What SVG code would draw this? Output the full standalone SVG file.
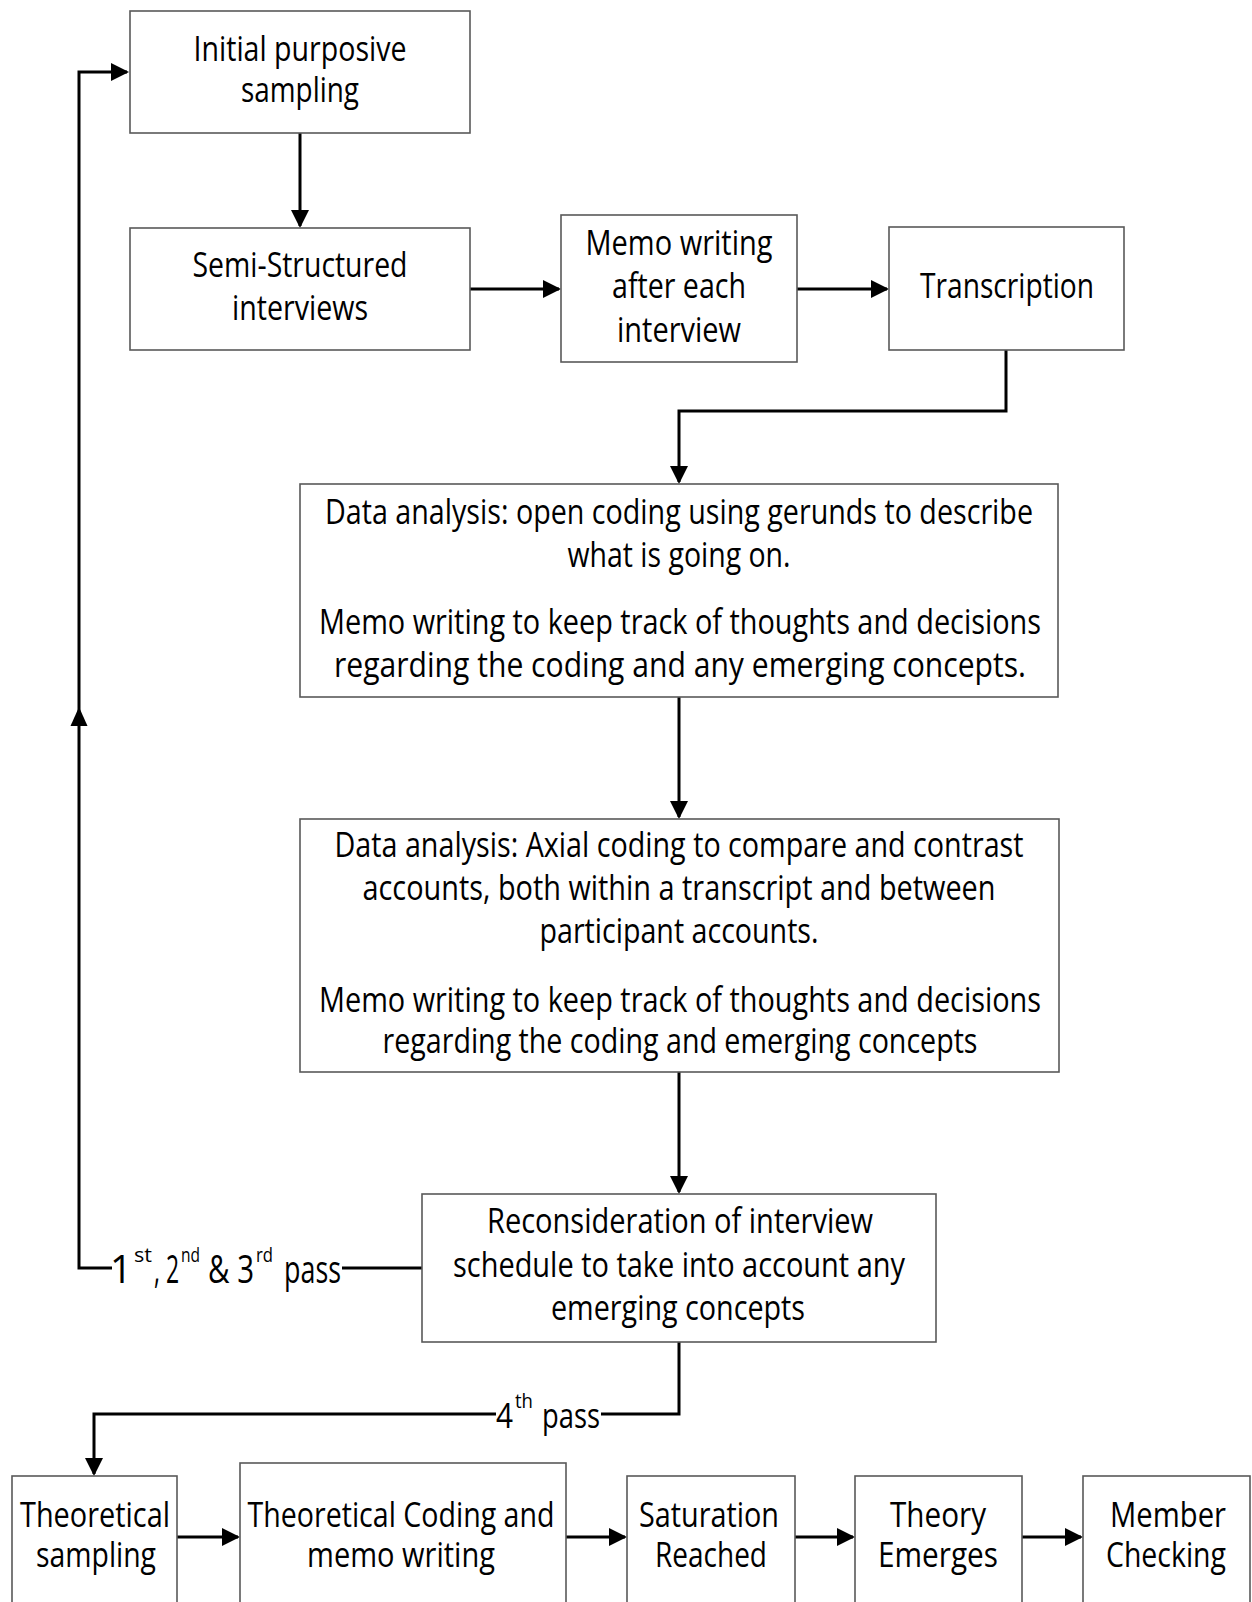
<svg xmlns="http://www.w3.org/2000/svg" width="1252" height="1602" viewBox="0 0 1252 1602">
  <style>
    .box { fill: #ffffff; stroke: #595959; stroke-width: 1.6; }
    .t { font-family: "Open Sans", "Noto Sans", "Liberation Sans", sans-serif; font-size: 34px; fill: #000000; text-anchor: middle; }
    .l { font-family: "Open Sans", "Noto Sans", "Liberation Sans", sans-serif; font-size: 35px; fill: #000000; }
    .big { font-size: 38px; }
    .sup { font-size: 20px; }
    .c { fill: none; stroke: #000000; stroke-width: 3; }
    .head { fill: #000000; }
  </style>
  <defs>
    <marker id="arrow" markerUnits="userSpaceOnUse" markerWidth="18" markerHeight="18" viewBox="0 0 18 18" refX="16" refY="9" orient="auto">
      <path d="M0,0 L18,9 L0,18 z" class="head"/>
    </marker>
  </defs>

  <rect x="0" y="0" width="1252" height="1602" fill="#ffffff"/>

  <!-- connectors -->
  <g id="connectors">
    <path class="c" d="M300 133 V226" marker-end="url(#arrow)"/>
    <path class="c" d="M470 289 H559" marker-end="url(#arrow)"/>
    <path class="c" d="M797 289 H887" marker-end="url(#arrow)"/>
    <path class="c" d="M1006 350 V411 H679 V482" marker-end="url(#arrow)"/>
    <path class="c" d="M679 697 V817" marker-end="url(#arrow)"/>
    <path class="c" d="M679 1072 V1192" marker-end="url(#arrow)"/>
    <!-- 4th pass branch -->
    <path class="c" d="M679 1342 V1414 H601"/>
    <path class="c" d="M496 1414 H94 V1474" marker-end="url(#arrow)"/>
    <!-- loop back for the 1st, 2nd and 3rd pass -->
    <path class="c" d="M422 1268 H342"/>
    <path class="c" d="M112 1268 H79 V72 H127" marker-end="url(#arrow)"/>
    <polygon class="head" points="79,707 70.5,726 87.5,726"/>
    <!-- bottom row -->
    <path class="c" d="M177 1537 H238" marker-end="url(#arrow)"/>
    <path class="c" d="M566 1537 H625" marker-end="url(#arrow)"/>
    <path class="c" d="M795 1537 H853" marker-end="url(#arrow)"/>
    <path class="c" d="M1022 1537 H1081" marker-end="url(#arrow)"/>

    <g id="label-passes-1-3">
      <text class="l big" x="110" y="1283" textLength="22" lengthAdjust="spacingAndGlyphs">1</text>
      <text class="l sup" x="134" y="1262" textLength="18" lengthAdjust="spacingAndGlyphs">st</text>
      <text class="l big" x="154" y="1283" textLength="25" lengthAdjust="spacingAndGlyphs">, 2</text>
      <text class="l sup" x="181" y="1262" textLength="19" lengthAdjust="spacingAndGlyphs">nd</text>
      <text class="l big" x="208" y="1283" textLength="46" lengthAdjust="spacingAndGlyphs">&amp; 3</text>
      <text class="l sup" x="256" y="1262" textLength="17" lengthAdjust="spacingAndGlyphs">rd</text>
      <text class="l big" x="284" y="1283" textLength="57" lengthAdjust="spacingAndGlyphs">pass</text>
    </g>
    <g id="label-pass-4">
      <text class="l" x="496" y="1428" textLength="17" lengthAdjust="spacingAndGlyphs">4</text>
      <text class="l sup" x="515" y="1408" textLength="18" lengthAdjust="spacingAndGlyphs">th</text>
      <text class="l" x="542" y="1428" textLength="58" lengthAdjust="spacingAndGlyphs">pass</text>
    </g>
  </g>

  <!-- nodes -->
  <g id="initial-sampling">
    <rect class="box" x="130" y="11" width="340" height="122"/>
    <text class="t" x="300" y="61" textLength="213" lengthAdjust="spacingAndGlyphs">Initial purposive</text>
    <text class="t" x="300" y="102" textLength="118" lengthAdjust="spacingAndGlyphs">sampling</text>
  </g>

  <g id="semi-structured">
    <rect class="box" x="130" y="228" width="340" height="122"/>
    <text class="t" x="300" y="277" textLength="215" lengthAdjust="spacingAndGlyphs">Semi-Structured</text>
    <text class="t" x="300" y="320" textLength="136" lengthAdjust="spacingAndGlyphs">interviews</text>
  </g>

  <g id="memo-writing">
    <rect class="box" x="561" y="215" width="236" height="147"/>
    <text class="t" x="679" y="255" textLength="187" lengthAdjust="spacingAndGlyphs">Memo writing</text>
    <text class="t" x="679" y="298" textLength="134" lengthAdjust="spacingAndGlyphs">after each</text>
    <text class="t" x="679" y="342" textLength="124" lengthAdjust="spacingAndGlyphs">interview</text>
  </g>

  <g id="transcription">
    <rect class="box" x="889" y="227" width="235" height="123"/>
    <text class="t" x="1007" y="298" textLength="174" lengthAdjust="spacingAndGlyphs">Transcription</text>
  </g>

  <g id="open-coding">
    <rect class="box" x="300" y="484" width="758" height="213"/>
    <text class="t" x="679" y="524" textLength="708" lengthAdjust="spacingAndGlyphs">Data analysis: open coding using gerunds to describe</text>
    <text class="t" x="679" y="567" textLength="223" lengthAdjust="spacingAndGlyphs">what is going on.</text>
    <text class="t" x="680" y="634" textLength="722" lengthAdjust="spacingAndGlyphs">Memo writing to keep track of thoughts and decisions</text>
    <text class="t" x="680" y="677" textLength="692" lengthAdjust="spacingAndGlyphs">regarding the coding and any emerging concepts.</text>
  </g>

  <g id="axial-coding">
    <rect class="box" x="300" y="819" width="759" height="253"/>
    <text class="t" x="679" y="857" textLength="689" lengthAdjust="spacingAndGlyphs">Data analysis: Axial coding to compare and contrast</text>
    <text class="t" x="679" y="900" textLength="633" lengthAdjust="spacingAndGlyphs">accounts, both within a transcript and between</text>
    <text class="t" x="679" y="943" textLength="279" lengthAdjust="spacingAndGlyphs">participant accounts.</text>
    <text class="t" x="680" y="1012" textLength="722" lengthAdjust="spacingAndGlyphs">Memo writing to keep track of thoughts and decisions</text>
    <text class="t" x="680" y="1053" textLength="595" lengthAdjust="spacingAndGlyphs">regarding the coding and emerging concepts</text>
  </g>

  <g id="reconsideration">
    <rect class="box" x="422" y="1194" width="514" height="148"/>
    <text class="t" x="680" y="1233" textLength="386" lengthAdjust="spacingAndGlyphs">Reconsideration of interview</text>
    <text class="t" x="679" y="1277" textLength="452" lengthAdjust="spacingAndGlyphs">schedule to take into account any</text>
    <text class="t" x="678" y="1320" textLength="254" lengthAdjust="spacingAndGlyphs">emerging concepts</text>
  </g>

  <g id="theoretical-sampling">
    <rect class="box" x="12" y="1476" width="165" height="140"/>
    <text class="t" x="95" y="1527" textLength="150" lengthAdjust="spacingAndGlyphs">Theoretical</text>
    <text class="t" x="96" y="1567" textLength="120" lengthAdjust="spacingAndGlyphs">sampling</text>
  </g>

  <g id="theoretical-coding">
    <rect class="box" x="240" y="1463" width="326" height="153"/>
    <text class="t" x="401" y="1527" textLength="307" lengthAdjust="spacingAndGlyphs">Theoretical Coding and</text>
    <text class="t" x="401" y="1567" textLength="188" lengthAdjust="spacingAndGlyphs">memo writing</text>
  </g>

  <g id="saturation">
    <rect class="box" x="627" y="1476" width="168" height="140"/>
    <text class="t" x="709" y="1527" textLength="140" lengthAdjust="spacingAndGlyphs">Saturation</text>
    <text class="t" x="711" y="1567" textLength="112" lengthAdjust="spacingAndGlyphs">Reached</text>
  </g>

  <g id="theory-emerges">
    <rect class="box" x="855" y="1476" width="167" height="140"/>
    <text class="t" x="938" y="1527" textLength="96" lengthAdjust="spacingAndGlyphs">Theory</text>
    <text class="t" x="938" y="1567" textLength="120" lengthAdjust="spacingAndGlyphs">Emerges</text>
  </g>

  <g id="member-checking">
    <rect class="box" x="1083" y="1476" width="167" height="140"/>
    <text class="t" x="1168" y="1527" textLength="116" lengthAdjust="spacingAndGlyphs">Member</text>
    <text class="t" x="1166" y="1567" textLength="120" lengthAdjust="spacingAndGlyphs">Checking</text>
  </g>
</svg>
